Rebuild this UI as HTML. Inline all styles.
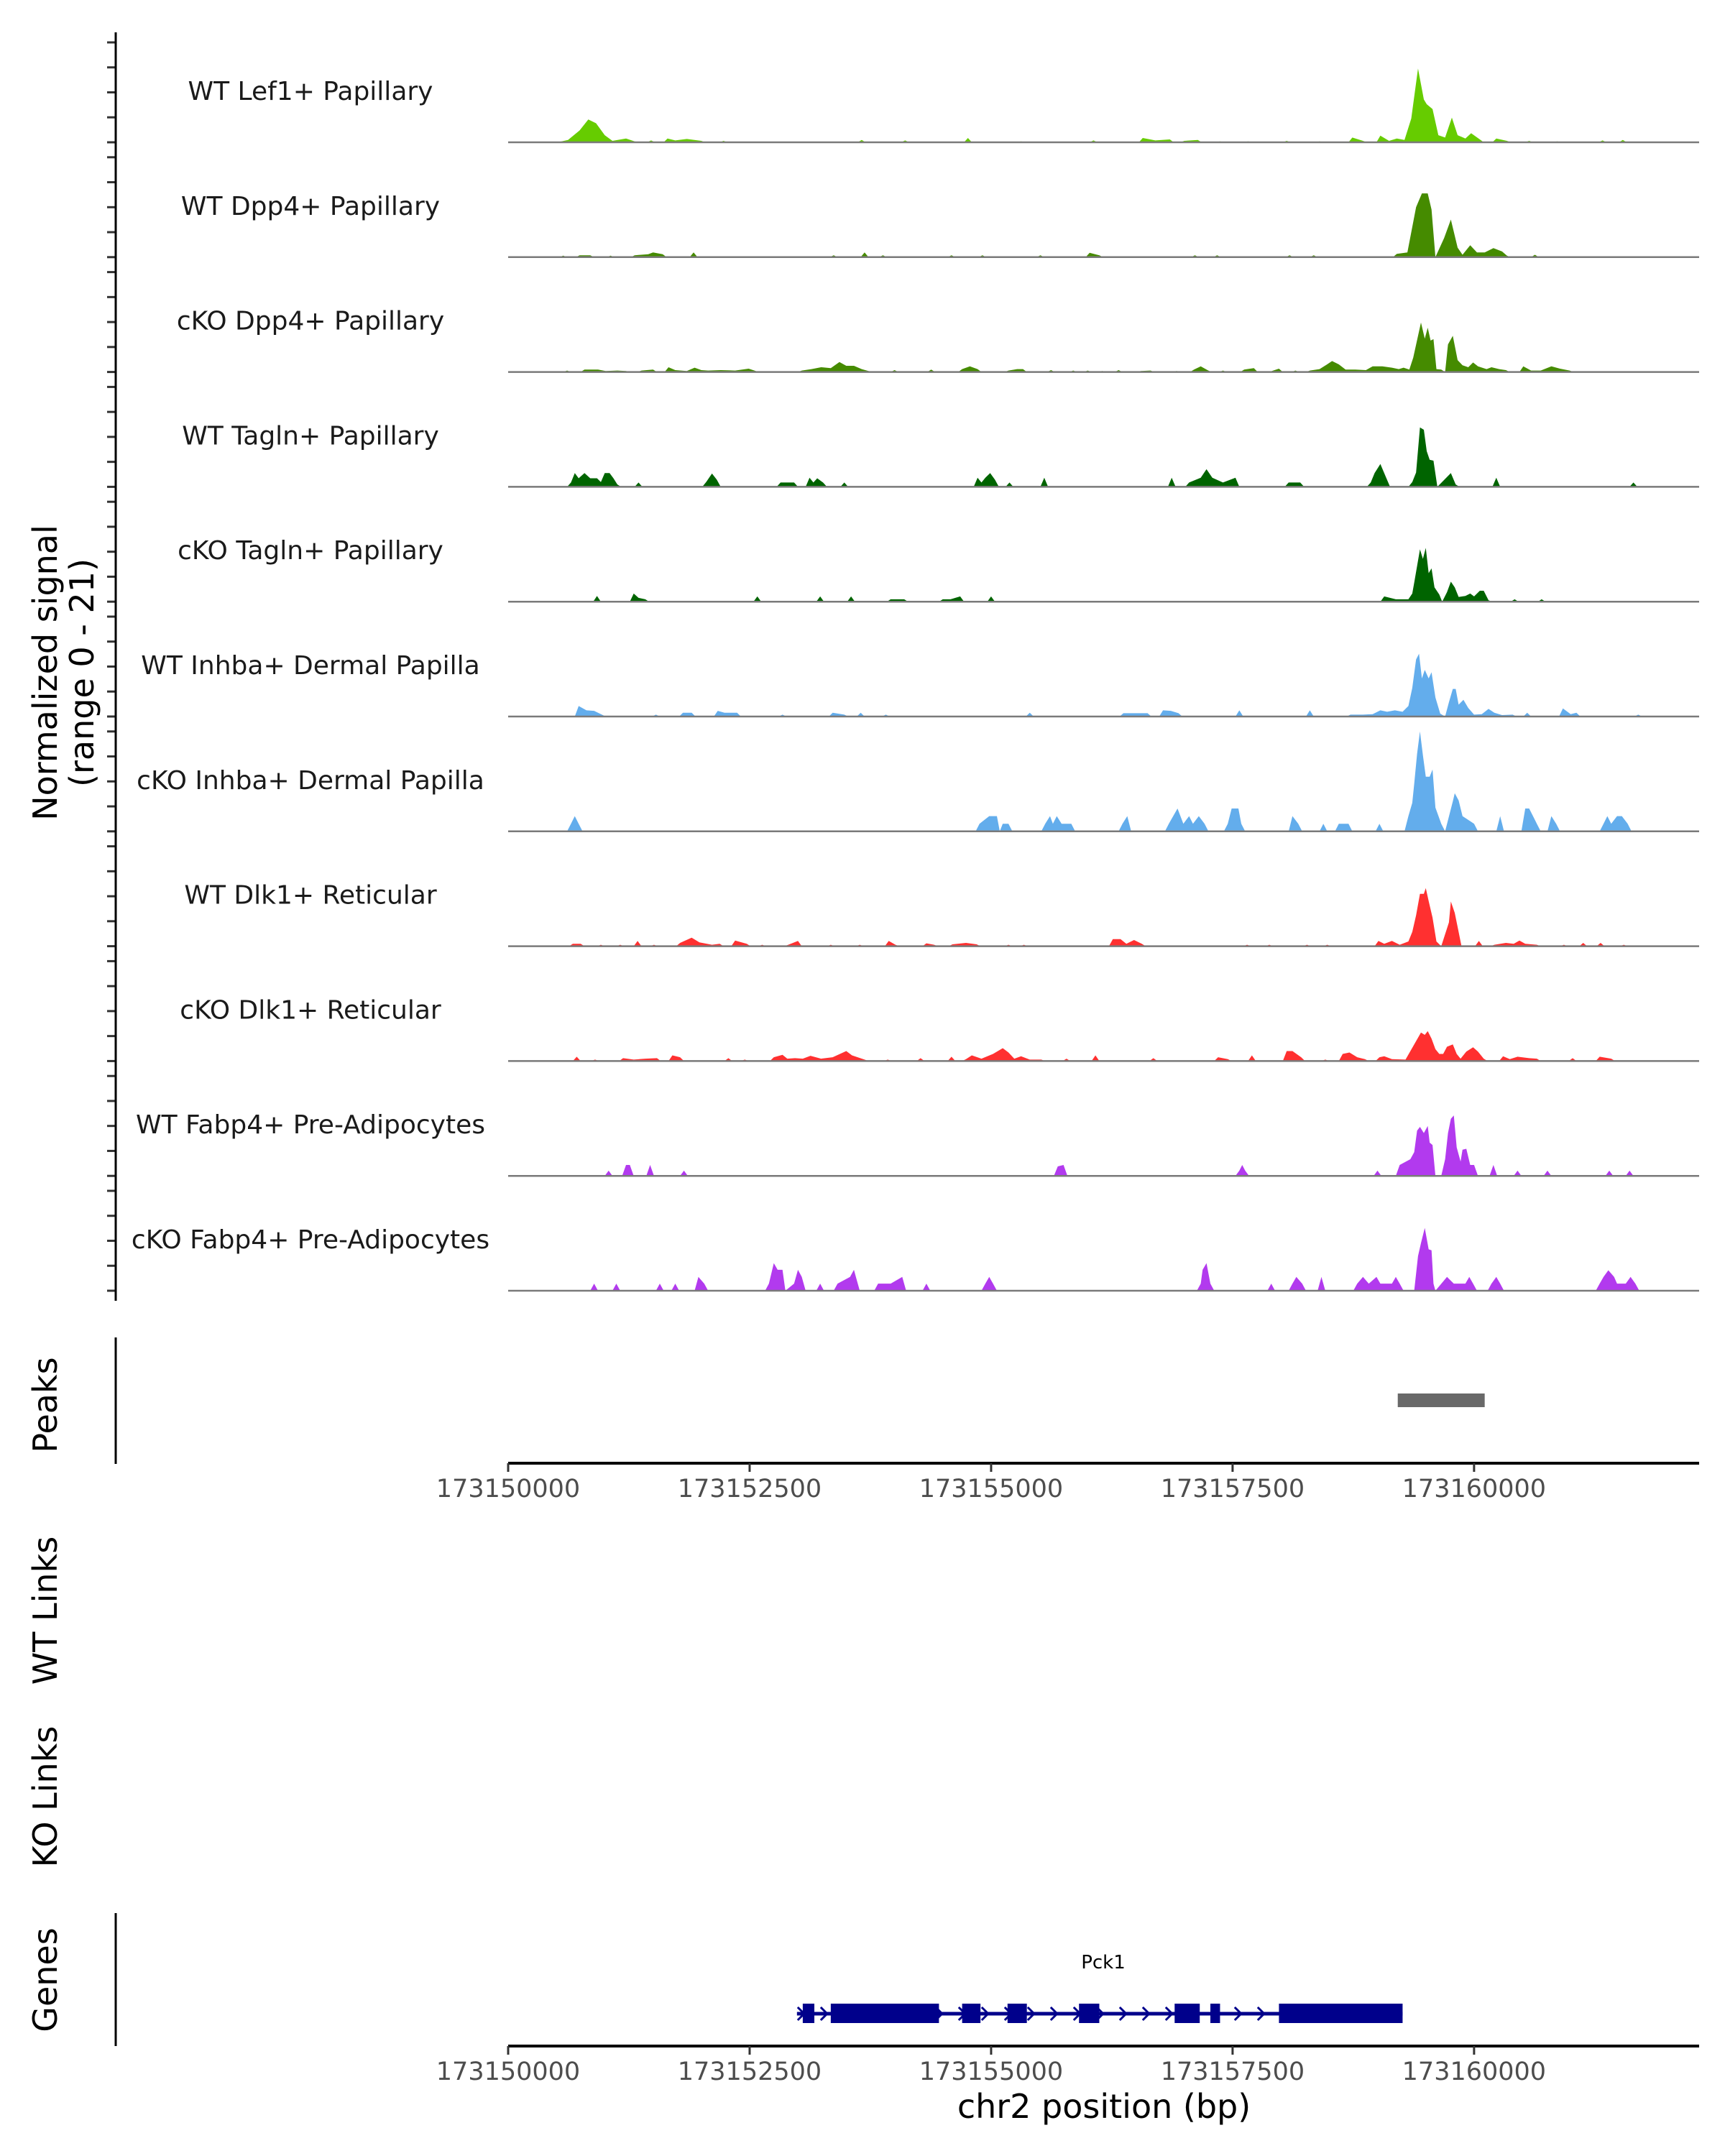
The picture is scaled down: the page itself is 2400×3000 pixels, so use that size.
<!DOCTYPE html>
<html>
<head>
<meta charset="utf-8">
<style>
  html,body{margin:0;padding:0;background:#fff;}
  svg{display:block;font-family:"DejaVu Sans","Liberation Sans",sans-serif;}
</style>
</head>
<body>
<svg id="chart" xmlns="http://www.w3.org/2000/svg" width="2400" height="3000" viewBox="0 0 2400 3000">
  <rect x="0" y="0" width="2400" height="3000" fill="#ffffff"/>
  <g id="tracks"></g>
  <g id="leftaxis"></g>
  <text transform="translate(79,936) rotate(-90)" text-anchor="middle" font-size="46" fill="#000">Normalized signal</text>
  <text transform="translate(130,936) rotate(-90)" text-anchor="middle" font-size="46" fill="#000">(range 0 - 21)</text>
  <g id="peaks"></g>
  <text transform="translate(79,1955) rotate(-90)" text-anchor="middle" font-size="46" fill="#000">Peaks</text>
  <text transform="translate(79,2241) rotate(-90)" text-anchor="middle" font-size="46" fill="#000">WT Links</text>
  <text transform="translate(79,2500) rotate(-90)" text-anchor="middle" font-size="46" fill="#000">KO Links</text>
  <text transform="translate(79,2755) rotate(-90)" text-anchor="middle" font-size="46" fill="#000">Genes</text>
  <g id="genes"></g>
  <g id="xaxis1"></g>
  <g id="xaxis2"></g>
  <text x="1536" y="2947" text-anchor="middle" font-size="46" fill="#000">chr2 position (bp)</text>
</svg>
<script>
// ---- data (positions in kb offset from 173150000; values in normalized signal) ----
const trackNames = ["WT Lef1+ Papillary","WT Dpp4+ Papillary","cKO Dpp4+ Papillary","WT Tagln+ Papillary","cKO Tagln+ Papillary","WT Inhba+ Dermal Papilla","cKO Inhba+ Dermal Papilla","WT Dlk1+ Reticular","cKO Dlk1+ Reticular","WT Fabp4+ Pre-Adipocytes","cKO Fabp4+ Pre-Adipocytes"];
const trackColors = ["#66cc00","#458b00","#458b00","#006400","#006400","#63adec","#63adec","#ff3030","#ff3030","#b23aee","#b23aee"];
const t1 = [[0.51,0],[0.62,0.5],[0.74,2.5],[0.83,4.8],[0.91,4],[1.0,1.5],[1.08,0.3],[1.22,0.8],[1.31,0.2],[1.48,0.4],[1.65,0.8],[1.73,0.4],[1.85,0.7],[2.0,0.3],[2.23,0.3],[3.66,0.5],[4.11,0.4],[4.76,0.9],[5.31,0.2],[6.06,0.4],[6.57,0.9],[6.7,0.4],[6.85,0.6],[7.0,0.3],[7.14,0.5],[7.37,0.2],[7.66,0.2],[8.06,0.3],[8.4,0.2],[8.74,1.0],[8.85,0.3],[9.03,1.4],[9.12,0.3],[9.2,0.8],[9.28,0.5],[9.35,5],[9.42,15.5],[9.48,9],[9.51,8],[9.57,7],[9.63,1.5],[9.7,1.0],[9.77,5.2],[9.83,1.5],[9.91,0.8],[9.97,1.9],[10.06,0.6],[10.23,0.8],[10.34,0.3],[10.57,0.3],[10.86,0.2],[11.33,0.4],[11.54,0.5]];
const t2 = [[0.57,0.3],[0.74,0.4],[0.85,0.4],[1.06,0.3],[1.31,0.4],[1.45,0.6],[1.5,1.0],[1.6,0.6],[1.92,1.0],[3.37,0.4],[3.69,1.0],[3.88,0.4],[4.59,0.4],[4.91,0.4],[5.51,0.4],[6.02,0.9],[6.12,0.4],[7.11,0.4],[7.34,0.4],[8.09,0.4],[8.34,0.4],[9.2,0.7],[9.31,1],[9.4,10.5],[9.46,13.4],[9.52,13.4],[9.56,10],[9.6,0],[9.69,4],[9.76,7.9],[9.83,2],[9.88,0.5],[9.96,2.5],[10.03,1.0],[10.11,1.0],[10.2,1.9],[10.29,1.2],[10.34,0.3],[10.63,0.5]];
const t3 = [[0.61,0.3],[0.79,0.5],[0.93,0.5],[1.01,0.2],[1.13,0.3],[1.22,0.2],[1.38,0.3],[1.5,0.5],[1.66,1.0],[1.73,0.4],[1.85,0.2],[1.93,0.9],[2.0,0.4],[2.07,0.3],[2.2,0.4],[2.35,0.3],[2.49,0.7],[2.55,0.3],[3.04,0.3],[3.14,0.6],[3.24,1.0],[3.34,0.8],[3.43,2.1],[3.5,1.3],[3.58,1.3],[3.66,0.6],[3.73,0.2],[4.0,0.4],[4.38,0.5],[4.7,0.6],[4.78,1.2],[4.86,0.6],[5.18,0.3],[5.27,0.6],[5.33,0.6],[5.62,0.4],[5.85,0.3],[6.0,0.3],[6.15,0.2],[6.32,0.4],[6.55,0.2],[6.65,0.3],[6.92,0.2],[7.1,0.5],[7.17,1.2],[7.24,0.4],[7.4,0.3],[7.62,0.5],[7.72,0.8],[7.92,0.3],[7.98,0.7],[8.15,0.3],[8.3,0.3],[8.4,0.6],[8.47,1.5],[8.53,2.3],[8.6,1.6],[8.67,0.5],[8.77,0.5],[8.88,0.4],[8.95,1.2],[9.05,1.2],[9.15,0.9],[9.22,0.6],[9.27,0.9],[9.33,0.5],[9.37,3],[9.45,10.4],[9.49,7],[9.52,9.3],[9.55,6.6],[9.58,6.9],[9.61,0.6],[9.66,0.5],[9.7,0],[9.73,5.8],[9.78,7.6],[9.83,2.5],[9.88,1.4],[9.94,1.0],[9.99,2.0],[10.04,1.2],[10.13,0.6],[10.18,1.0],[10.26,0.6],[10.33,0.4],[10.51,1.2],[10.59,0.3],[10.69,0.3],[10.8,1.2],[10.89,0.7],[10.99,0.3]];
const t4 = [[0.65,0.9],[0.69,2.9],[0.73,1.8],[0.79,2.9],[0.85,1.8],[0.92,1.8],[0.96,1],[1.0,2.9],[1.05,2.9],[1.09,1.8],[1.13,0.5],[1.35,0.9],[2.05,1],[2.11,2.8],[2.16,1.5],[2.82,0.9],[2.96,0.9],[3.12,1.9],[3.16,0.9],[3.2,1.8],[3.26,0.9],[3.48,0.9],[4.86,1.9],[4.9,0.9],[4.94,1.9],[4.99,2.9],[5.04,1.5],[5.19,0.9],[5.55,1.9],[6.87,1.9],[7.05,0.9],[7.17,1.9],[7.23,3.7],[7.29,1.9],[7.4,0.9],[7.53,1.9],[8.08,0.9],[8.2,0.9],[8.93,0.9],[8.97,2.9],[9.03,4.8],[9.09,1.9],[9.36,1],[9.4,3],[9.44,12.5],[9.48,12],[9.51,7.5],[9.54,5.7],[9.58,5.5],[9.62,0],[9.76,2.9],[9.81,0.5],[10.23,1.9],[11.65,0.9]];
const t5 = [[0.92,1.2],[1.3,1.7],[1.35,0.8],[1.42,0.5],[2.58,1.1],[3.23,1.1],[3.55,1.1],[3.96,0.5],[4.1,0.5],[4.5,0.5],[4.58,0.5],[4.68,1.1],[5.0,1.1],[9.07,1.1],[9.19,0.5],[9.32,0.5],[9.36,1.7],[9.38,4],[9.44,11],[9.47,9],[9.5,11.3],[9.53,6],[9.56,7],[9.59,3],[9.64,1.5],[9.67,0],[9.72,2],[9.76,4.2],[9.8,3],[9.84,1],[9.91,1.2],[9.96,1.7],[10.0,1.1],[10.06,2.3],[10.1,2.3],[10.15,0.3],[10.42,0.5],[10.7,0.5]];
const t6 = [[0.73,2.2],[0.81,1.3],[0.89,1.2],[0.97,0.4],[1.53,0.4],[1.81,0.8],[1.9,0.8],[2.17,1.2],[2.24,0.8],[2.37,0.8],[2.84,0.4],[3.36,0.8],[3.48,0.4],[3.65,0.8],[3.91,0.4],[5.4,0.8],[6.37,0.7],[6.48,0.7],[6.62,0.7],[6.78,1.3],[6.86,1.2],[6.94,0.7],[7.57,1.3],[8.3,1.3],[8.72,0.4],[8.85,0.4],[8.95,0.5],[9.03,1.3],[9.1,1.0],[9.18,1.3],[9.26,1.0],[9.32,2.2],[9.36,6],[9.4,12],[9.43,13.2],[9.46,8],[9.49,9.8],[9.53,8],[9.56,9.3],[9.6,4],[9.65,0.6],[9.7,0],[9.74,3],[9.78,5.8],[9.81,5.8],[9.84,2.5],[9.89,3.5],[9.94,1.8],[10.0,0.4],[10.08,0.5],[10.15,1.6],[10.21,0.8],[10.29,0.3],[10.4,0.4],[10.55,0.8],[10.92,1.7],[11.0,0.5],[11.06,0.8],[11.7,0.4]];
const t7 = [[0.65,1.6],[0.69,3.2],[0.73,1.6],[4.88,1.6],[4.98,3.2],[5.06,3.2],[5.09,0],[5.12,1.6],[5.18,1.6],[5.56,1.6],[5.61,3.2],[5.64,1.6],[5.68,3.2],[5.73,1.6],[5.83,1.6],[6.36,1.6],[6.41,3.2],[6.84,1.6],[6.93,4.8],[6.99,1.6],[7.05,3.2],[7.09,1.6],[7.15,3.2],[7.21,1.6],[7.45,1.6],[7.49,4.8],[7.56,4.8],[7.59,1.6],[8.12,3.2],[8.18,1.6],[8.44,1.6],[8.6,1.6],[8.7,1.6],[9.02,1.6],[9.32,3.2],[9.36,6],[9.38,10],[9.41,16.3],[9.44,21],[9.47,16],[9.5,11.5],[9.54,11.5],[9.57,13],[9.6,5],[9.66,1.6],[9.7,0],[9.78,6.3],[9.8,8],[9.84,6.5],[9.88,3.2],[10.0,1.6],[10.27,3.2],[10.53,4.8],[10.57,4.8],[10.61,3.2],[10.65,1.6],[10.8,3.2],[10.85,1.6],[11.34,1.6],[11.38,3.2],[11.42,1.6],[11.48,3.2],[11.53,3.2],[11.59,1.6]];
const t8 = [[0.67,0.5],[0.75,0.5],[0.96,0.3],[1.16,0.3],[1.34,1.1],[1.51,0.3],[1.78,0.7],[1.9,1.8],[1.98,0.8],[2.11,0.3],[2.19,0.5],[2.35,1.2],[2.47,0.5],[2.63,0.3],[2.9,0.3],[3.0,1.1],[3.34,0.3],[3.64,0.3],[3.94,1.1],[4.01,0.3],[4.33,0.6],[4.41,0.3],[4.6,0.4],[4.74,0.7],[4.85,0.4],[5.18,0.3],[5.34,0.3],[6.26,1.5],[6.34,1.5],[6.4,0.5],[6.48,1.3],[6.56,0.5],[7.65,0.3],[7.88,0.3],[8.27,0.3],[8.48,0.3],[9.01,1.1],[9.07,0.5],[9.15,1.1],[9.23,0.3],[9.32,1],[9.36,3],[9.4,6.5],[9.44,11],[9.48,11],[9.5,12.2],[9.53,9.5],[9.57,6],[9.61,1],[9.66,0],[9.74,5],[9.76,9.4],[9.8,7],[9.84,3],[9.87,0],[10.05,1.1],[10.21,0.3],[10.33,0.7],[10.41,0.5],[10.47,1.2],[10.53,0.5],[10.65,0.3],[10.93,0.3],[11.13,0.7],[11.31,0.7],[11.55,0.3]];
const t9 = [[0.71,0.9],[0.9,0.3],[1.19,0.6],[1.3,0.3],[1.42,0.5],[1.54,0.6],[1.7,1.2],[1.78,0.8],[2.28,0.6],[2.45,0.3],[2.75,0.8],[2.84,1.3],[2.89,0.5],[2.97,0.6],[3.05,0.5],[3.13,1.1],[3.24,0.5],[3.36,0.8],[3.5,2.1],[3.56,1.2],[3.69,0.3],[3.93,0.3],[4.27,0.6],[4.59,0.9],[4.74,0.4],[4.8,1.2],[4.9,0.5],[5.02,1.5],[5.12,2.7],[5.18,1.8],[5.24,0.5],[5.31,1.0],[5.4,0.3],[5.52,0.3],[5.78,0.5],[6.08,1.2],[6.68,0.6],[7.35,0.8],[7.45,0.4],[7.7,1.2],[8.06,2.1],[8.12,2.1],[8.21,0.8],[8.46,0.3],[8.64,1.5],[8.71,1.8],[8.79,0.8],[8.87,0.4],[9.02,0.8],[9.07,1.0],[9.15,0.4],[9.29,0.3],[9.38,3.5],[9.45,6],[9.49,5.5],[9.52,6.3],[9.56,4.7],[9.6,2.5],[9.64,1.5],[9.68,1.5],[9.72,3],[9.78,3.5],[9.82,1.5],[9.86,0.5],[9.92,2],[9.99,2.9],[10.04,2],[10.1,0.5],[10.3,1.0],[10.37,0.4],[10.45,0.9],[10.57,0.6],[10.65,0.5],[11.02,0.6],[11.3,0.9],[11.42,0.5]];
const t10 = [[1.04,1.1],[1.22,2.3],[1.26,2.3],[1.47,2.3],[1.82,1.1],[5.69,2.0],[5.75,2.3],[7.57,1.1],[7.6,2.3],[7.63,1.1],[9.0,1.1],[9.23,2.3],[9.34,3.5],[9.38,5],[9.41,9.5],[9.44,10.3],[9.48,9],[9.52,10.5],[9.54,7],[9.57,6.5],[9.6,0],[9.66,0],[9.7,3.5],[9.73,9],[9.76,12],[9.79,12.7],[9.82,6],[9.86,3],[9.88,5.5],[9.92,5.7],[9.96,2.3],[10.0,2.3],[10.04,0],[10.2,2.3],[10.45,1.1],[10.76,1.1],[11.4,1.1],[11.61,1.1]];
const t11 = [[0.89,1.5],[1.12,1.5],[1.57,1.5],[1.73,1.5],[1.97,2.9],[2.03,1.5],[2.7,1.5],[2.75,5.8],[2.79,4.4],[2.84,4.4],[2.87,0],[2.96,1.5],[3.0,4.4],[3.04,2.9],[3.23,1.5],[3.41,1.5],[3.54,2.9],[3.58,4.4],[3.6,2.9],[3.83,1.5],[3.96,1.5],[4.08,2.9],[4.33,1.5],[4.94,1.5],[4.98,2.9],[5.02,1.5],[7.17,1.5],[7.19,4.4],[7.23,5.8],[7.27,1.5],[7.9,1.5],[8.12,1.5],[8.16,2.9],[8.22,1.5],[8.42,2.9],[8.79,1.5],[8.85,2.9],[8.91,1.5],[8.99,2.9],[9.03,1.5],[9.15,1.5],[9.19,2.9],[9.23,1.5],[9.42,7.3],[9.45,10],[9.49,13.2],[9.53,8.7],[9.56,8.5],[9.58,1.5],[9.6,0],[9.72,2.9],[9.79,1.5],[9.91,1.5],[9.95,2.9],[9.99,1.5],[10.18,1.5],[10.23,2.9],[10.27,1.5],[11.3,1.5],[11.34,2.9],[11.39,4.3],[11.45,2.9],[11.48,1.5],[11.57,1.5],[11.62,2.9],[11.67,1.5]];
const trackData = [t1,t2,t3,t4,t5,t6,t7,t8,t9,t10,t11];
const peakStart = [9.21];
const peakEnd = [10.11];
const xTicks = [173150000,173152500,173155000,173157500,173160000];
const geneName = "Pck1";
const geneStart = 2.99, geneEnd = 9.26;
const exonStart = [3.05,3.34,4.70,5.17,5.91,6.90,7.27,7.98];
const exonEnd = [3.17,4.46,4.89,5.37,6.12,7.16,7.37,9.26];
const yMax = 21;

// ---- scales ----
const NS = "http://www.w3.org/2000/svg";
const X0 = 707, X1 = 2364, BP0 = 173150000, BP1 = 173162330;
function xKb(kb){ return X0 + (kb*1000)/(BP1-BP0)*(X1-X0); }
function xBp(bp){ return X0 + (bp-BP0)/(BP1-BP0)*(X1-X0); }
const base0 = 198, step = 159.8, trackH = 139;
function yVal(v, b){ return b - v/yMax*trackH; }
function mk(tag, attrs, parent){ const e=document.createElementNS(NS,tag); for(const k in attrs) e.setAttribute(k,attrs[k]); parent.appendChild(e); return e; }

const gTracks = document.getElementById('tracks');
const gAxis = document.getElementById('leftaxis');

trackData.forEach((pts, i) => {
  const b = base0 + step*i;
  const g = mk('g', {}, gTracks);
  
  
  const lab = mk('text', {x:432, y:b-59, 'text-anchor':'middle', 'font-size':36, fill:'#1a1a1a'}, g);
  lab.textContent = trackNames[i];
  
  
  const segs = []; let cur = [];
  pts.forEach((p) => {
    if (cur.length && p[0] - cur[cur.length-1][0] > 0.15) { segs.push(cur); cur = []; }
    cur.push(p);
  });
  if (cur.length) segs.push(cur);
  segs.forEach(seg => {
    let d = 'M' + xKb(seg[0][0]-0.04).toFixed(1) + ',' + b;
    seg.forEach(p => { d += ' L' + xKb(p[0]).toFixed(1) + ',' + yVal(p[1], b).toFixed(1); });
    d += ' L' + xKb(seg[seg.length-1][0]+0.04).toFixed(1) + ',' + b + ' Z';
    const path = mk('path', {d:d, fill:trackColors[i]}, g);
    
    
  });
  const bl = mk('line', {x1:X0, x2:X1, y1:b, y2:b, stroke:'#7a7a7a', 'stroke-width':2.5}, g);
  
  
  for (let k=0;k<5;k++){
    const ty = b - k*trackH/4;
    const t = mk('line', {x1:149, x2:160, y1:ty, y2:ty, stroke:'#333', 'stroke-width':3}, gAxis);
    
    
  }
});
const axl = mk('line', {x1:161, x2:161, y1:45, y2:1810, stroke:'#000', 'stroke-width':3}, gAxis);



// peaks
const gP = document.getElementById('peaks');
const pl = mk('line', {x1:161, x2:161, y1:1861, y2:2037, stroke:'#000', 'stroke-width':3}, gP);


peakStart.forEach((s, i) => {
  const r = mk('rect', {x:xKb(s), y:1939, width:xKb(peakEnd[i])-xKb(s), height:19, fill:'#696969'}, gP);
  
  
});

// x axes
function drawXAxis(gid, y){
  const g = document.getElementById(gid);
  const l = mk('line', {x1:X0, x2:X1, y1:y, y2:y, stroke:'#000', 'stroke-width':4}, g);
  
  
  xTicks.forEach(t => {
    const x = xBp(t);
    const tk = mk('line', {x1:x, x2:x, y1:y, y2:y+12, stroke:'#333', 'stroke-width':3}, g);
    
    
    const tx = mk('text', {x:x, y:y+47, 'text-anchor':'middle', 'font-size':35, fill:'#4d4d4d'}, g);
    tx.textContent = String(t);
    
    
  });
}
drawXAxis('xaxis1', 2036);
drawXAxis('xaxis2', 2847);

// genes
const gG = document.getElementById('genes');
const gl = mk('line', {x1:161, x2:161, y1:2662, y2:2847, stroke:'#000', 'stroke-width':3}, gG);


const gy = 2802;
const intr = mk('rect', {x:xKb(geneStart), y:gy-2.5, width:xKb(geneEnd)-xKb(geneStart), height:5, fill:'#00008b'}, gG);


for (let x = xKb(geneStart)+6; x < xKb(geneEnd)-10; x += 32) {
  const c = mk('polyline', {points:(x-5)+','+(gy-9)+' '+(x+4)+','+gy+' '+(x-5)+','+(gy+9), fill:'none', stroke:'#00008b', 'stroke-width':3}, gG);
  
  
}
exonStart.forEach((s, i) => {
  const r = mk('rect', {x:xKb(s), y:2788, width:xKb(exonEnd[i])-xKb(s), height:27, fill:'#00008b'}, gG);
  
  
});
const gn = mk('text', {x:1535, y:2739, 'text-anchor':'middle', 'font-size':26, fill:'#000'}, gG);
gn.textContent = geneName;


</script>
</body>
</html>
